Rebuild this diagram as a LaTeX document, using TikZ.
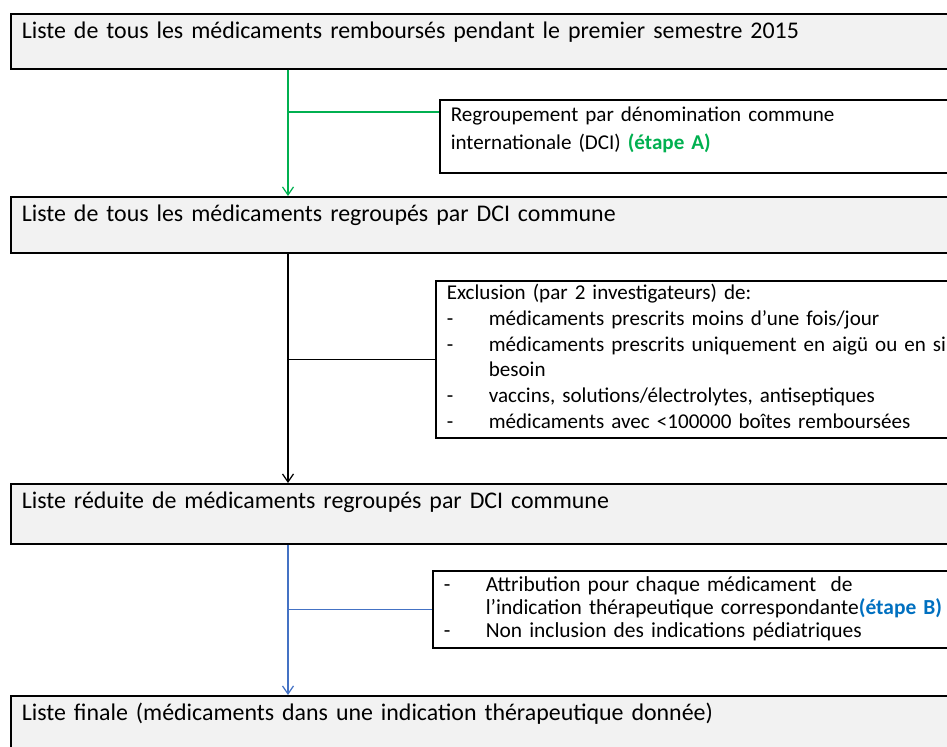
\documentclass[tikz,border=0pt]{standalone}
\usepackage{fontspec}
\setmainfont{Carlito}
\usetikzlibrary{arrows.meta}
\usetikzlibrary{calc}
\definecolor{vertA}{HTML}{00B050}
\definecolor{bleuB}{HTML}{0070C0}
\definecolor{bleuTrait}{HTML}{4472C4}
\definecolor{fondListe}{HTML}{F2F2F2}
\setlength{\parindent}{0pt}
\newcommand{\puce}{\noindent\hangindent=0.84cm\hangafter=1\makebox[0.84cm][l]{-}}
\newcommand{\tiret}{\par\puce}

\begin{document}
\begin{tikzpicture}[x=0.02cm,y=-0.02cm,
  liste/.style={draw,line width=0.9pt,fill=fondListe,anchor=north west,align=left,text width=18.6cm,inner xsep=0.22cm,inner ysep=0.06cm,text height=0.44cm,font=\fontsize{13.6}{16}\selectfont},
  etape/.style={draw,line width=0.9pt,fill=white,anchor=north west,align=left,text width=11cm,inner xsep=0.22cm,inner ysep=0.06cm},
  fleche/.style={line width=0.7pt,-{Straight Barb[length=0.16cm,width=0.22cm]}},
  branche/.style={line width=0.7pt}]
  \useasboundingbox (0,0) rectangle (947,747);
  \clip (0,0) rectangle (947,747);
  %listes
  \node[liste,text depth=0.54cm] (liste1) at (10,13) {Liste de tous les médicaments remboursés pendant le premier semestre 2015};
  \node[liste,text depth=0.56cm] (liste2) at (10,196) {Liste de tous les médicaments regroupés par DCI commune};
  \node[liste,text depth=0.64cm] (liste3) at (10,483) {Liste réduite de médicaments regroupés par DCI commune};
  \node[liste,text depth=1.2cm] (liste4) at (10,695) {Liste finale (médicaments dans une indication thérapeutique donnée)};
  \coordinate (axe) at (288,0);

  %etape A
  \node[etape,text height=0.38cm,text depth=0.96cm,font=\fontsize{12}{15.9}\selectfont] (etapeA) at (439,99) {Regroupement par dénomination commune\\internationale (DCI) {\bfseries\color{vertA}(étape A)}};
  \draw[fleche,vertA] (axe |- liste1.south) -- (axe |- liste2.north);
  \draw[branche,vertA] ($(axe |- etapeA.north)+(0,13)$) -- ($(etapeA.north west)+(0,13)$);

  %exclusion
  \node[etape,text height=0.32cm,text depth=2.7cm,font=\fontsize{12}{14.6}\selectfont] (exclusion) at (435,280) {Exclusion (par 2 investigateurs) de:
    \tiret médicaments prescrits moins d’une fois/jour
    \tiret médicaments prescrits uniquement en aigü ou en si\newline besoin
    \tiret vaccins, solutions/électrolytes, antiseptiques
    \tiret médicaments avec <100000 boîtes remboursées};
  \draw[fleche] (axe |- liste2.south) -- (axe |- liste3.north);
  \draw[branche] (axe |- exclusion.west) -- (exclusion.west);

  %etape B
  \node[etape,text height=0.36cm,text depth=1.06cm,font=\fontsize{12.2}{12.9}\selectfont] (etapeB) at (432,570) {\puce Attribution pour chaque médicament~ de\newline l’indication thérapeutique correspondante{\bfseries\color{bleuB}(étape B)}
    \tiret Non inclusion des indications pédiatriques};
  \draw[fleche,bleuTrait] (axe |- liste3.south) -- (axe |- liste4.north);
  \draw[branche,bleuTrait] (axe |- etapeB.west) -- (etapeB.west);
\end{tikzpicture}
\end{document}
